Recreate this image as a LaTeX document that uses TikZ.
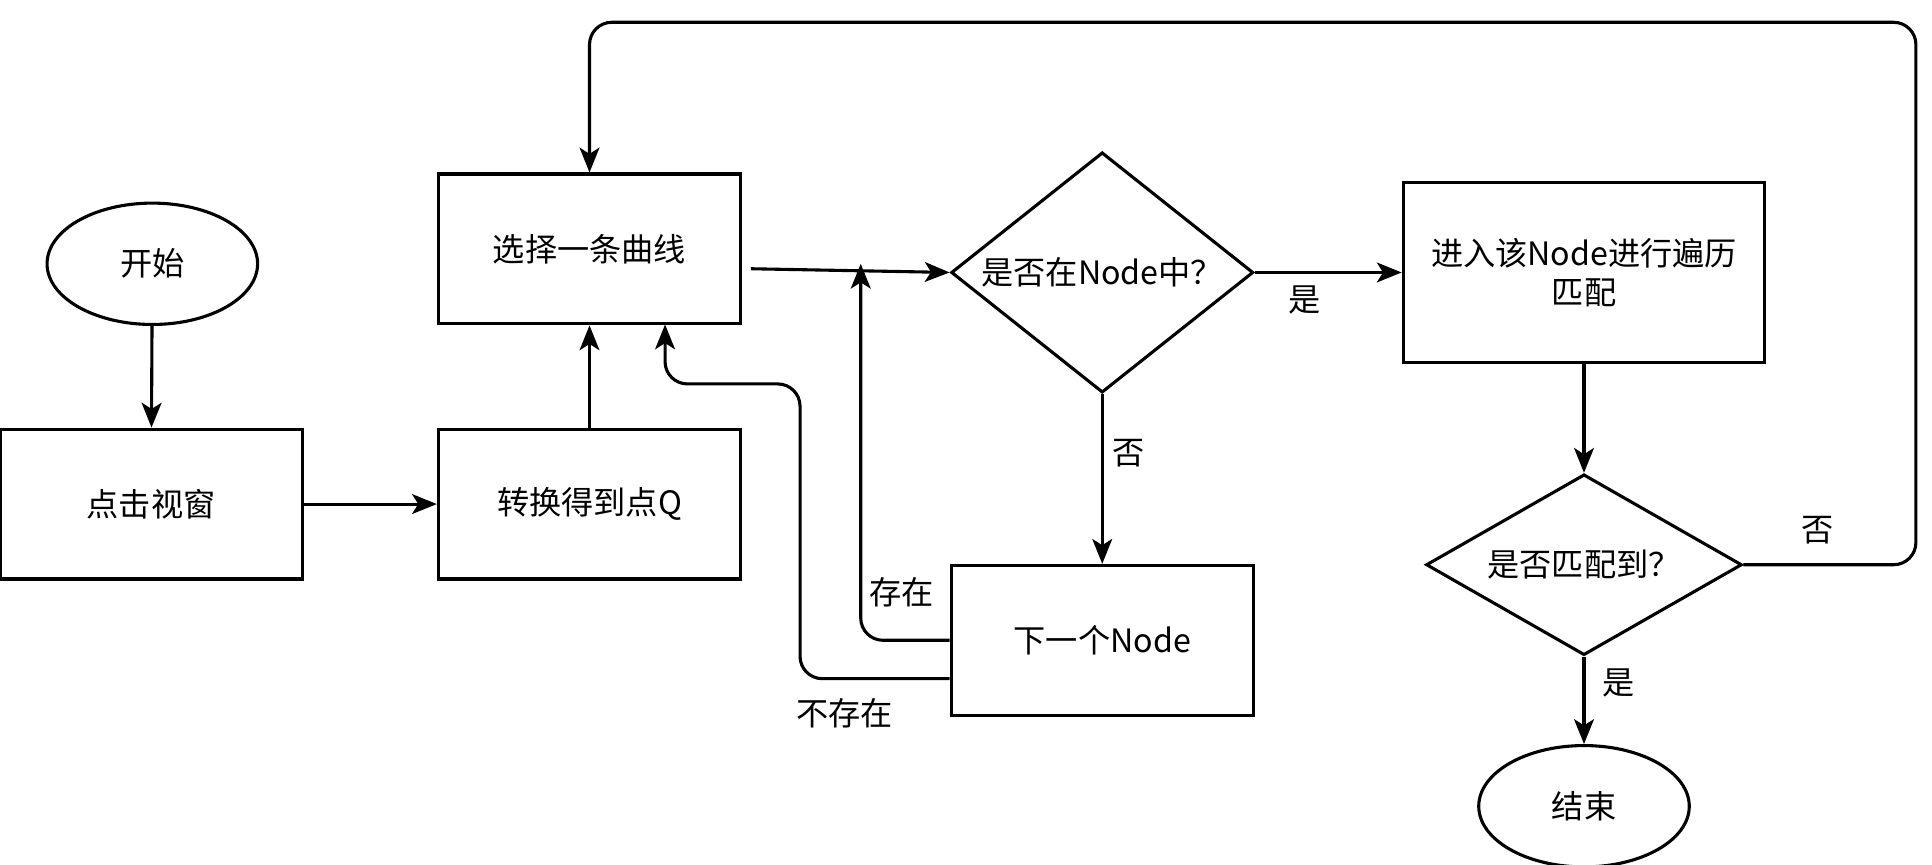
\documentclass[tikz,border=0pt]{standalone}
\usepackage{fontspec}
\setmainfont{Noto Sans CJK SC}
\usetikzlibrary{shapes.geometric,arrows.meta}
\begin{document}
\begin{tikzpicture}[x=1pt,y=-1pt,
  every node/.style={font=\fontsize{26}{32}\selectfont},
  box/.style={draw,line width=2.5pt,minimum width=244pt,minimum height=121pt,inner sep=0pt,align=center},
  oval/.style={draw,line width=2.5pt,ellipse,minimum width=170pt,minimum height=98pt,inner sep=0pt},
  dia/.style={draw,line width=2.5pt,diamond,inner sep=0pt},
  arr/.style={line width=2.5pt,-{Stealth[length=20pt,width=16pt,inset=5pt]},rounded corners=18pt},
  lbl/.style={font=\fontsize{26}{32}\selectfont}]
\useasboundingbox (0,0) rectangle (1560,698);
\node[oval] (start) at (123,213) {开始};
\node[box] (click) at (122,407) {点击视窗};
\node[box] (conv) at (476,407) {转换得到点Q};
\node[box] (sel) at (476,201) {选择一条曲线};
\node[dia,minimum width=244pt,minimum height=194pt,aspect=1.26] (d1) at (890,220) {};
\node at (d1) {是否在Node中？};
\node[box,minimum width=292pt,minimum height=146pt] (enter) at (1279,220) {进入该Node进行遍历\\匹配};
\node[box] (next) at (890,517) {下一个Node};
\node[dia,minimum width=255pt,minimum height=146pt,aspect=1.75] (d2) at (1279,456) {};
\node at (d2) {是否匹配到？};
\node[oval] (end) at (1279,651) {结束};
\draw[arr] (start) -- (click);
\draw[arr] (click) -- (conv);
\draw[arr] (conv) -- (sel);
\draw[arr] (sel.east |- 0,217) ++(7,0) coordinate (s1) -- (d1.west);
\draw[arr] (d1.south) -- node[right,lbl,xshift=4pt,pos=0.35]{否} (next.north);
\draw[arr] (d1.east) -- (enter.west);
\node[lbl] (l1) at (1053,242) {是};
\draw[arr] (enter.south) -- (d2.north);
\draw[arr] (d2.south) -- node[right,lbl,xshift=10pt,pos=0.3]{是} (end.north);
\draw[arr] (d2.east) -- (1547,456) -- (1547,18) -- (476,18) -- (sel.north);
\node[lbl] (l2) at (1468,428) {否};
\draw[arr] (next.west |- 0,517) -- (695,517) -- (695,213);
\node[lbl] (l3) at (728,478) {存在};
\draw[arr] (next.west |- 0,548) -- (646,548) -- (646,310) -- (537,310) -- (537,262);
\node[lbl] (l4) at (682,576) {不存在};
\end{tikzpicture}
\end{document}
